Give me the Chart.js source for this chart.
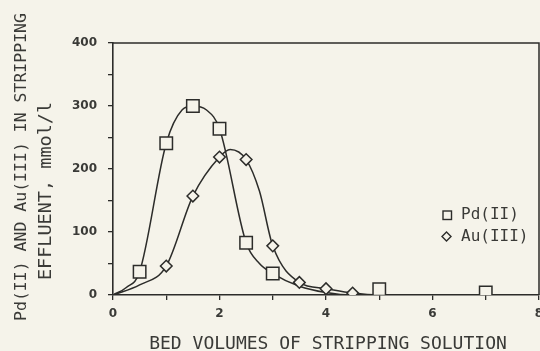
<!DOCTYPE html>
<html>
<head>
<meta charset="utf-8">
<script src="https://cdn.jsdelivr.net/npm/chart.js@4"></script>
<style>
  html, body { margin: 0; padding: 0; background: #f5f3ea; }
  #c { display: block; }
</style>
</head>
<body>
<canvas id="c" width="540" height="351"></canvas>
<script>
// points
var pdBedVolumes = [0.5, 1.0, 1.5, 2.0, 2.5, 3.0, 5.0, 7.0];
var pdValues     = [37, 241, 300, 264, 83, 34, 9, 4];
var auBedVolumes = [1.0, 1.5, 2.0, 2.5, 3.0, 3.5, 4.0, 4.5];
var auValues     = [46, 157, 219, 215, 78, 20, 10, 3];

// the hand drawn curves
var pdCurveX = [0, 0.25, 0.5, 1.0, 1.3, 1.5, 1.75, 2.0, 2.5, 2.75, 3.0, 3.5, 4.0, 4.5, 8.0];
var pdCurveY = [0, 12, 37, 241, 294, 300, 294, 264, 83, 50, 34, 14, 4, 0, 0];
var auCurveX = [0, 0.5, 1.0, 1.5, 2.0, 2.2, 2.5, 2.75, 3.0, 3.5, 4.0, 4.5, 5.0, 8.0];
var auCurveY = [0, 16, 46, 157, 219, 231, 215, 165, 78, 20, 10, 3, 0, 0];

var xTickLabels = [0, 2, 4, 6, 8];
var yTickLabels = [0, 100, 200, 300, 400];

var seriesNames = ["Pd(II)", "Au(III)"];
var xTitle = "BED VOLUMES OF STRIPPING SOLUTION";
var yTitle = ["Pd(II) AND Au(III) IN STRIPPING", "EFFLUENT, mmol/l"];

var ink = "#3a3a37";
var lineInk = "#2c2c2a";
var paper = "#f5f3ea";
var mono = '"DejaVu Sans Mono", monospace';

function pts(xs, ys) {
    var out = [];
    for (var i = 0; i < xs.length; i++) out.push({x: xs[i], y: ys[i]});
    return out;
}

// box on top / right, titles and the little legend
var extras = {
    id: 'extras',
    afterDraw: function(chart) {
        var ctx = chart.ctx, a = chart.chartArea;
        ctx.save();
        ctx.strokeStyle = lineInk;
        ctx.lineWidth = 1.5;
        ctx.beginPath();
        ctx.moveTo(a.left, a.top);
        ctx.lineTo(a.right, a.top);
        ctx.lineTo(a.right, a.bottom);
        ctx.stroke();

        ctx.fillStyle = ink;
        ctx.textAlign = 'center';
        ctx.textBaseline = 'middle';
        ctx.font = '18px ' + mono;
        ctx.fillText(xTitle, (a.left + a.right) / 2 + 2, 344);

        ctx.save();
        ctx.translate(22, 167);
        ctx.rotate(-Math.PI / 2);
        ctx.font = '16.5px ' + mono;
        ctx.fillText(yTitle[0], 0, 0);
        ctx.restore();

        ctx.save();
        ctx.translate(46, 191);
        ctx.rotate(-Math.PI / 2);
        ctx.font = '18.5px ' + mono;
        ctx.fillText(yTitle[1], 0, 0);
        ctx.restore();

        // legend
        ctx.lineWidth = 1.4;
        ctx.strokeStyle = lineInk;
        ctx.strokeRect(443, 211, 8.5, 8.5);
        ctx.beginPath();
        ctx.moveTo(446.5, 232);
        ctx.lineTo(451, 236.5);
        ctx.lineTo(446.5, 241);
        ctx.lineTo(442, 236.5);
        ctx.closePath();
        ctx.stroke();
        ctx.textAlign = 'left';
        ctx.font = '16px ' + mono;
        ctx.fillText(seriesNames[0], 461, 215);
        ctx.fillText(seriesNames[1], 461, 237);
        ctx.restore();
    }
};

new Chart(document.getElementById("c"), {
    type: 'scatter',
    data: {
        datasets: [
            {
                label: seriesNames[0],
                data: pts(pdBedVolumes, pdValues),
                showLine: false,
                pointStyle: 'rect',
                pointRadius: 8.8,
                pointBorderWidth: 1.5,
                pointBorderColor: lineInk,
                pointBackgroundColor: paper,
                order: 0
            },
            {
                label: seriesNames[1],
                data: pts(auBedVolumes, auValues),
                showLine: false,
                pointStyle: 'rectRot',
                pointRadius: 5.8,
                pointBorderWidth: 1.5,
                pointBorderColor: lineInk,
                pointBackgroundColor: paper,
                order: 0
            },
            {
                label: 'pd curve',
                data: pts(pdCurveX, pdCurveY),
                showLine: true,
                cubicInterpolationMode: 'monotone',
                borderColor: lineInk,
                borderWidth: 1.5,
                pointRadius: 0,
                order: 1
            },
            {
                label: 'au curve',
                data: pts(auCurveX, auCurveY),
                showLine: true,
                cubicInterpolationMode: 'monotone',
                borderColor: lineInk,
                borderWidth: 1.5,
                pointRadius: 0,
                order: 1
            }
        ]
    },
    options: {
        responsive: false,
        animation: false,
        layout: { autoPadding: false, padding: { top: 43, right: 1, bottom: 0, left: 0 } },
        plugins: {
            legend: { display: false },
            tooltip: { enabled: false }
        },
        scales: {
            x: {
                type: 'linear',
                min: 0,
                max: 8,
                afterFit: function(s) { s.height = 56; s.paddingLeft = 0; s.paddingRight = 0; },
                ticks: {
                    stepSize: 1,
                    autoSkip: false,
                    maxRotation: 0,
                    padding: 7,
                    color: ink,
                    font: { family: 'DejaVu Sans', size: 12, weight: 'bold' },
                    callback: function(v) { return xTickLabels.indexOf(v) >= 0 ? v : ''; }
                },
                grid: { drawOnChartArea: false, tickLength: 5, color: lineInk, lineWidth: 1.3 },
                border: { color: lineInk, width: 1.6 }
            },
            y: {
                min: 0,
                max: 400,
                afterFit: function(s) { s.width = 113; s.paddingTop = 0; s.paddingBottom = 0; },
                ticks: {
                    stepSize: 50,
                    autoSkip: false,
                    padding: 11,
                    color: ink,
                    font: { family: 'DejaVu Sans', size: 12, weight: 'bold' },
                    callback: function(v) { return yTickLabels.indexOf(v) >= 0 ? v : ''; }
                },
                grid: { drawOnChartArea: false, tickLength: 5, color: lineInk, lineWidth: 1.3 },
                border: { color: lineInk, width: 1.6 }
            }
        }
    },
    plugins: [extras]
});
</script>
</body>
</html>
